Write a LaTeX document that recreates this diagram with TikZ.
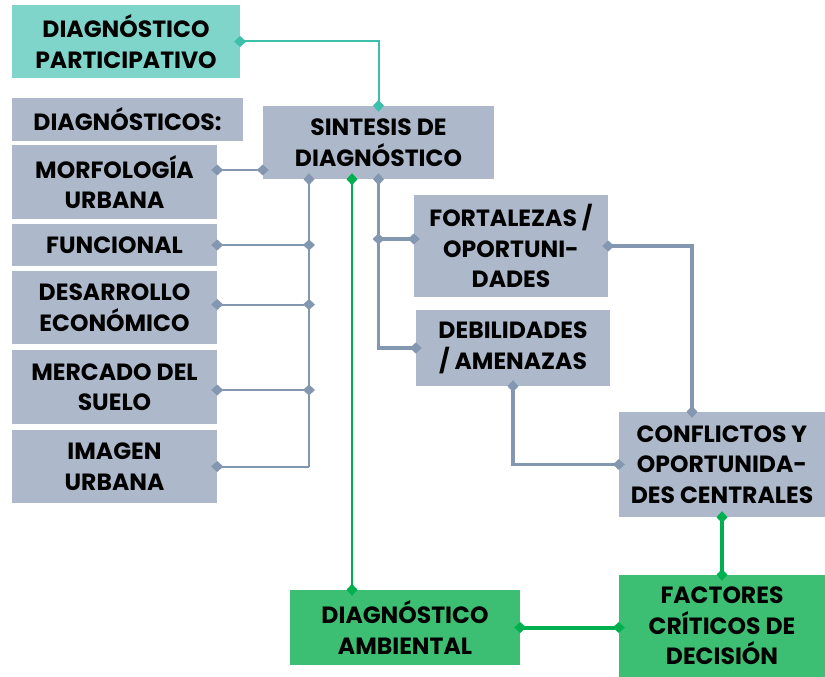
\documentclass[tikz,border=0pt]{standalone}
\usepackage{fontspec}
\setmainfont{Poppins}
\usetikzlibrary{arrows.meta}
\definecolor{boxgray}{HTML}{ADB9CA}
\definecolor{linegray}{HTML}{8497B0}
\definecolor{boxteal}{HTML}{80D5CA}
\definecolor{lineteal}{HTML}{3CC0AC}
\definecolor{boxgreen}{HTML}{3DBF73}
\definecolor{linegreen}{HTML}{00B050}
\tikzset{
  bx/.style={rectangle, inner sep=0pt, align=center, font=\fontsize{23.5}{30.5}\selectfont\bfseries, text=black},
  gb/.style={bx, fill=boxgray},
  tb/.style={bx, fill=boxteal},
  grb/.style={bx, fill=boxgreen},
  dia/.tip={Diamond[length=12pt,width=11pt]},
  dm/.style={-dia, shorten >=-6pt},
  dd/.style={dia-dia, shorten >=-6pt, shorten <=-6pt},
  gl/.style={draw=linegray, line width=2pt},
  glt/.style={draw=linegray, line width=3.5pt},
  tl/.style={draw=lineteal, line width=2pt},
  grl/.style={draw=linegreen, line width=2pt},
  grlt/.style={draw=linegreen, line width=4pt},
}
\begin{document}
\begin{tikzpicture}[x=1pt,y=-1pt]
\useasboundingbox (0,0) rectangle (825,677);
\node[tb, minimum width=228pt, minimum height=73pt] (part) at (126,41.5) {DIAGNÓSTICO\\PARTICIPATIVO};
\node[gb, minimum width=231pt, minimum height=43pt] (diags) at (127.5,119.5) {DIAGNÓSTICOS:};
\node[gb, minimum width=205pt, minimum height=74pt] (morf) at (114.5,182) {MORFOLOGÍA\\URBANA};
\node[gb, minimum width=205pt, minimum height=42pt] (func) at (114.5,245) {FUNCIONAL};
\node[gb, minimum width=205pt, minimum height=73pt] (desa) at (114.5,307.5) {DESARROLLO\\ECONÓMICO};
\node[gb, minimum width=205pt, minimum height=74pt] (merc) at (114.5,387) {MERCADO DEL\\SUELO};
\node[gb, minimum width=205pt, minimum height=73pt] (imag) at (114.5,466.5) {IMAGEN\\URBANA};
\node[gb, minimum width=231pt, minimum height=73pt] (sint) at (378.5,142.5) {SINTESIS DE\\DIAGNÓSTICO};
\node[gb, minimum width=194pt, minimum height=102pt] (fort) at (511,246) {FORTALEZAS /\\OPORTUNI-\\DADES};
\node[gb, minimum width=194pt, minimum height=76pt] (debi) at (513,348) {DEBILIDADES\\/ AMENAZAS};
\node[gb, minimum width=206pt, minimum height=105pt] (conf) at (722,464.5) {CONFLICTOS Y\\OPORTUNIDA-\\DES CENTRALES};
\node[grb, minimum width=230pt, minimum height=75pt] (amb) at (405,627.5) {DIAGNÓSTICO\\AMBIENTAL};
\node[grb, minimum width=206pt, minimum height=102pt] (fact) at (722,626) {FACTORES\\CRÍTICOS DE\\DECISIÓN};
\coordinate (bus) at (309,0);
\coordinate (grn) at (352,0);
\coordinate (fx) at (692,0);
% teal
\draw[tl, dd] (part.east) -| (sint.north);
% morfologia
\draw[gl, dd] ([yshift=12pt]morf.east) -- ([yshift=12pt]morf.east -| sint.west);
% left bus
\draw[gl, dm] (imag.east -| bus) -- (sint.south -| bus);
\draw[gl, dd] (func.east) -- (func.east -| bus);
\draw[gl, dd] ([yshift=3pt]desa.east) -- ([yshift=3pt]desa.east -| bus);
\draw[gl, dd] ([yshift=-3pt]merc.east) -- ([yshift=-3pt]merc.east -| bus);
\draw[gl, dia-, shorten <=-6pt] (imag.east) -- (imag.east -| bus);
% green thin
\draw[grl, dd] (sint.south -| grn) -- (amb.north -| grn);
% right bus
\draw[glt, dd] (sint.south) -- (sint.south |- debi.west) -- (debi.west);
\draw[glt, dd] ([yshift=7pt]sint.south |- fort.west) -- ([yshift=7pt]fort.west);
\draw[glt, dd] (fort.east) -| (conf.north -| fx);
\draw[glt, dd] (debi.south) |- (conf.west);
% green thick
\draw[grlt, dd] (conf.south) -- (fact.north);
\draw[grlt, dd] (amb.east) -- (amb.east -| fact.west);
\end{tikzpicture}
\end{document}
